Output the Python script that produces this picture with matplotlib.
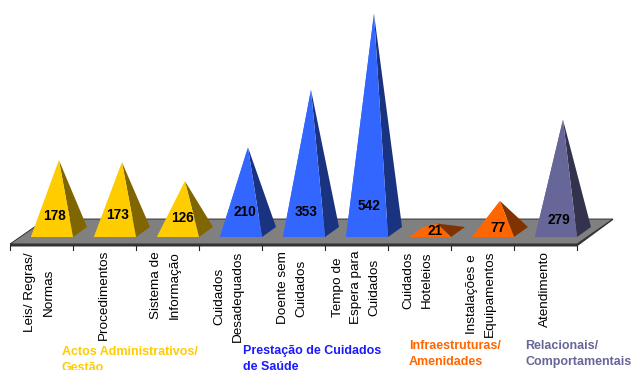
import matplotlib
matplotlib.use('Agg')
import matplotlib.pyplot as plt
import numpy as np
from matplotlib.patches import Polygon

plt.rcParams['font.family'] = ['Liberation Sans', 'DejaVu Sans']

categories = ['Leis/ Regras/\nNormas', 'Procedimentos', 'Sistema de\nInformação',
              'Cuidados\nDesadequados', 'Doente sem\nCuidados', 'Tempo de\nEspera para\nCuidados',
              'Cuidados\nHoteleios', 'Instalações e\nEquipamentos', 'Atendimento']
values = [178, 173, 126, 210, 353, 542, 21, 77, 279]
groupIdx = [0, 0, 0, 1, 1, 1, 2, 2, 3]

groupNames = ['Actos Administrativos/\nGestão', 'Prestação de Cuidados\nde Saúde',
              'Infraestruturas/\nAmenidades', 'Relacionais/\nComportamentais']
frontColors = ['#FFCC00', '#3366FF', '#FF6600', '#666699']
sideColors = ['#806600', '#1A3380', '#803300', '#33334D']
groupTextColors = ['#FFCC00', '#1A1AFF', '#FF6600', '#666699']

W, H = 634, 370
xPerCat = 63.0   # px per category
yPerVal = 0.403  # px per value unit
x0Px, y0Px = 10.0, 232.0

fig = plt.figure(figsize=(W / 100, H / 100), dpi=100)
ax = fig.add_axes([0, 0, 1, 1])
ax.set_xlim(-x0Px / xPerCat, (W - x0Px) / xPerCat)
ax.set_ylim((y0Px - H) / yPerVal, y0Px / yPerVal)
ax.axis('off')


def dx(px):
    return px / xPerCat


def dy(px):
    return px / yPerVal


n = len(values)

# floor
floorFront = dy(-12)
floorBack = dy(13)
ax.add_patch(Polygon([(0, floorFront), (dx(36), floorBack), (n + dx(36), floorBack), (n, floorFront)],
                     facecolor='#808080', edgecolor='#222222', linewidth=0.6))
ax.add_patch(Polygon([(0, floorFront), (n, floorFront), (n + dx(1), dy(-14.5)), (0, dy(-14.5))],
                     facecolor='#333333', edgecolor='none'))
ax.add_patch(Polygon([(n, floorFront), (n + dx(36), floorBack), (n + dx(36), floorBack - dy(1)), (n, dy(-14.5))],
                     facecolor='#333333', edgecolor='none'))
for i in range(n + 1):
    ax.plot([i, i], [dy(-14), dy(-18)], color='#222222', linewidth=0.8)

# pyramids
for i, val in enumerate(values):
    g = groupIdx[i]
    fl = i + dx(21)
    fr = i + 1
    depth = dx(14)
    by = dy(-5)
    ty = dy(5)
    apex = ((fl + fr + depth) / 2, val)
    ax.add_patch(Polygon([(fl, by), (fl + depth, ty), apex], facecolor=frontColors[g], edgecolor='none'))
    ax.add_patch(Polygon([(fr, by), (fr + depth, ty), apex], facecolor=sideColors[g], edgecolor='none'))
    ax.add_patch(Polygon([(fl, by), (fr, by), apex], facecolor=frontColors[g], edgecolor='none'))

# value labels
valX = [55, 118, 182, 245, 306, 369, 435, 498, 559]
valY = [216, 215, 218, 212, 212, 206, 231, 228, 220]
for v, x, y in zip(values, valX, valY):
    fig.text(x / W, 1 - y / H, str(v), ha='center', va='center', fontsize=9.8, fontweight='bold', color='black')

# category labels
labX = [39.5, 104, 165.5, 228.5, 292, 356, 417.5, 481, 545]
labY = [292, 295, 285, 296, 288, 287, 280, 294, 289]
for name, x, y in zip(categories, labX, labY):
    fig.text(x / W, 1 - y / H, name, rotation=90, ha='center', va='center', fontsize=9.7,
             color='black', linespacing=1.68, multialignment='center')

# group labels, first line top anchored; Gestão runs off the bottom as in the original
groupX = [62, 243, 409, 525]
groupY = [346, 345, 340, 340]
for name, col, x, y in zip(groupNames, groupTextColors, groupX, groupY):
    fig.text(x / W, 1 - y / H, name, ha='left', va='top', fontsize=9, fontweight='bold',
             color=col, linespacing=1.4)

fig.savefig('out.png', dpi=100)
